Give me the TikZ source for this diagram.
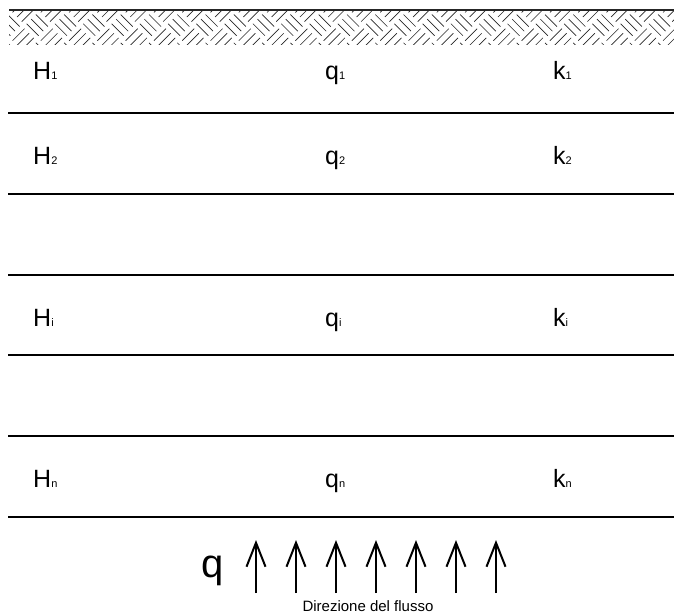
\documentclass[tikz,border=0pt]{standalone}
\usepackage{fontspec}
\setmainfont{Liberation Sans}
\usetikzlibrary{arrows.meta}
\newcommand\lsub[1]{{\fontsize{11}{11}\selectfont #1}}
\tikzset{
  layerline/.style={line width=2.4pt, line cap=butt},
  hatchline/.style={line width=0.65pt, draw=black!85},
  lbl/.style={anchor=base west, inner sep=0pt, font=\fontsize{25}{25}\selectfont},
  flow/.style={line width=2pt, -{Straight Barb[length=24pt,width=19pt,line width=2pt]}},
}
\begin{document}
\begin{tikzpicture}[x=1pt,y=-1pt]
\useasboundingbox (0,0) rectangle (674,614);

% ground surface with basket-weave hatching
\begin{scope}
  \clip (9,11) rectangle (674,44);
  \begin{scope}[shift={(9,11)}, rotate=-45]
    \foreach \i in {-3,...,30} {
      \foreach \d in {-3,...,4} {
        \pgfmathtruncatemacro\jj{\d-\i}
        \ifodd\d
          \foreach \t in {3.5,10,16.5} {
            \draw[hatchline] (\i*20+\t,\jj*20+1.5) -- ++(0,17);
          }
        \else
          \foreach \t in {3.5,10,16.5} {
            \draw[hatchline] (\i*20+1.5,\jj*20+\t) -- ++(17,0);
          }
        \fi
      }
    }
  \end{scope}
\end{scope}

% layer boundaries
\coordinate (g0) at (9,10);   \coordinate (g1) at (674,10);
\coordinate (l1a) at (8,113); \coordinate (l1b) at (674,113);
\coordinate (l2a) at (8,194); \coordinate (l2b) at (674,194);
\coordinate (l3a) at (8,275); \coordinate (l3b) at (674,275);
\coordinate (l4a) at (8,355); \coordinate (l4b) at (674,355);
\coordinate (l5a) at (8,436); \coordinate (l5b) at (674,436);
\coordinate (l6a) at (8,517); \coordinate (l6b) at (674,517);
\draw[line width=1.8pt, draw=black!85] (g0) -- (g1);
\foreach \k in {1,...,6} \draw[layerline] (l\k a) -- (l\k b);

% layer properties
\node[lbl] (H1) at (33,79) {H\lsub{1}};
\node[lbl] (q1) at (325,79) {q\lsub{1}};
\node[lbl] (k1) at (553,79) {k\lsub{1}};
\node[lbl] (H2) at (33,164) {H\lsub{2}};
\node[lbl] (q2) at (325,164) {q\lsub{2}};
\node[lbl] (k2) at (553,164) {k\lsub{2}};
\node[lbl] (Hi) at (33,326) {H\lsub{i}};
\node[lbl] (qi) at (325,326) {q\lsub{i}};
\node[lbl] (ki) at (553,326) {k\lsub{i}};
\node[lbl] (Hn) at (33,487) {H\lsub{n}};
\node[lbl] (qn) at (325,487) {q\lsub{n}};
\node[lbl] (kn) at (553,487) {k\lsub{n}};

% flow
\node[anchor=base west, inner sep=0pt, font=\fontsize{40}{40}\selectfont] (q) at (201,577) {q};
\foreach \x [count=\n] in {256,296,336,376,416,456,496} {
  \coordinate (f\n s) at (\x,593);
  \coordinate (f\n e) at (\x,540);
  \draw[flow] (f\n s) -- (f\n e);
}
\node[anchor=base, inner sep=0pt, font=\fontsize{15}{15}\selectfont] (dir) at (368,611) {Direzione del flusso};
\end{tikzpicture}
\end{document}
